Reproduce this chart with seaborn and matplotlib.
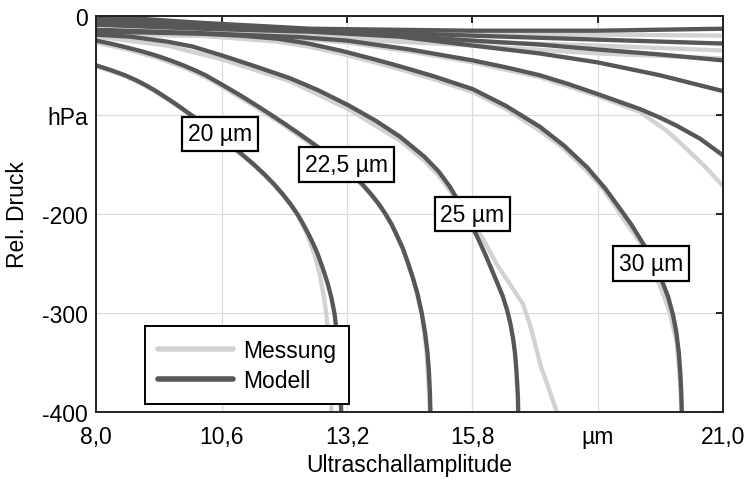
import numpy as np
import pandas as pd
import seaborn as sns
import matplotlib.pyplot as plt
from matplotlib.lines import Line2D

# ---- data (x = amplitude, y = rel. pressure in hPa) ----

# Modell curves (dark)
m20_x = [8.00, 8.32, 8.60, 8.83, 9.03, 9.21, 9.37, 9.53, 9.68, 9.97, 10.25, 10.52, 10.78, 11.03, 11.27, 11.49,
         11.69, 11.87, 12.03, 12.17, 12.29, 12.40, 12.50, 12.59, 12.70, 12.80, 12.88, 12.94, 12.99, 13.03, 13.05,
         13.07, 13.08]
m20_y = [-50, -55, -60, -65, -70, -75, -80, -85, -90, -100, -110, -120, -130, -140, -150, -160,
         -170, -180, -190, -200, -210, -220, -230, -240, -255, -270, -285, -300, -320, -340, -360,
         -380, -400]

m22_x = [8.00, 8.30, 8.64, 8.96, 9.24, 9.54, 9.81, 10.05, 10.27, 10.45, 10.63, 10.98, 11.31, 11.63, 11.94,
         12.24, 12.53, 12.81, 13.07, 13.31, 13.52, 13.70, 13.86, 14.00, 14.12, 14.22, 14.36, 14.47, 14.57,
         14.66, 14.75, 14.82, 14.87, 14.90, 14.92, 14.93]
m22_y = [-25, -28, -32, -36, -40, -45, -50, -55, -60, -65, -70, -80, -90, -100, -110,
         -120, -130, -140, -150, -160, -170, -180, -190, -200, -210, -220, -235, -250, -265,
         -280, -300, -320, -340, -360, -380, -400]

m25_x = [8.00, 8.70, 9.47, 10.00, 10.61, 11.30, 12.02, 12.60, 13.22, 13.80, 14.30, 14.80, 15.10, 15.34,
         15.51, 15.66, 15.79, 15.92, 16.06, 16.20, 16.32, 16.43, 16.52, 16.59, 16.645, 16.685, 16.71,
         16.73, 16.745, 16.75]
m25_y = [-19, -21, -26, -31, -40, -51, -63, -75, -90, -106, -122, -142, -157, -173,
         -187, -200, -212, -225, -240, -256, -270, -283, -297, -311, -326, -341, -356,
         -372, -386, -400]

m30_x = [8.00, 9.00, 10.16, 11.00, 11.75, 12.40, 13.06, 13.70, 14.30, 15.00, 15.81, 16.50, 17.20, 17.70,
         18.18, 18.55, 18.85, 19.10, 19.34, 19.55, 19.72, 19.86, 19.96, 20.03, 20.08, 20.11, 20.13, 20.14]
m30_y = [-16, -16.8, -18, -20, -23, -28, -35, -43, -51, -61, -74, -91, -112, -131,
         -153, -174, -194, -211, -230, -248, -266, -284, -302, -320, -340, -360, -380, -400]

m35_x = [8.00, 10.16, 11.20, 12.23, 13.20, 14.51, 15.81, 16.50, 17.20, 17.80, 18.40, 19.27, 19.70, 20.04,
         20.52, 21.00]
m35_y = [-14, -17.5, -19.5, -21.5, -25, -34, -45, -52, -60, -69, -79, -94, -103, -111,
         -124, -141]

m40_x = [8.00, 10.16, 12.44, 14.30, 15.81, 17.20, 18.40, 19.69, 21.00]
m40_y = [-9, -13, -16, -21, -30, -38, -47, -60, -76]

m45_x = [8.00, 10.16, 12.44, 14.30, 15.81, 17.20, 18.40, 19.69, 21.00]
m45_y = [-7, -11, -15, -20, -25, -29, -34, -39, -45]

m50_x = [8.00, 10.16, 12.44, 15.81, 18.40, 21.00]
m50_y = [-4, -9, -14, -20, -24, -28]

m60_x = [8.00, 10.16, 12.44, 15.81, 18.40, 21.00]
m60_y = [0, -7, -13, -15, -15, -13]

# Messung curves (light)
s20_x = [8.00, 8.32, 8.60, 8.83, 9.03, 9.21, 9.37, 9.53, 9.68, 9.97, 10.25, 10.52, 10.78, 11.03, 11.27, 11.49,
         11.69, 11.87, 12.03, 12.17, 12.37, 12.52, 12.63, 12.71, 12.77, 12.81, 12.84, 12.86, 12.87, 12.88]
s20_y = [-51, -56, -61, -66, -71, -76, -81, -86, -91, -101, -111, -121, -131, -141, -151, -161,
         -171, -181, -191, -200, -220, -240, -260, -280, -300, -320, -340, -360, -380, -400]

s22_x = [8.00, 8.64, 9.24, 9.81, 10.27, 10.63, 11.31, 11.94, 12.53, 13.07, 13.52, 13.86, 14.12, 14.36,
         14.57, 14.75, 14.85, 14.90, 14.92]
s22_y = [-27, -34, -42, -52, -62, -72, -92, -112, -132, -151, -171, -190, -210, -235,
         -265, -300, -340, -380, -400]

s25_x = [8.00, 9.47, 10.61, 12.02, 13.22, 14.30, 14.80, 15.10, 15.34, 15.75, 16.02, 16.31, 16.58, 16.85,
         16.99, 17.10, 17.22, 17.39, 17.55]
s25_y = [-21, -30, -44, -66, -94, -126, -146, -161, -177, -205, -225, -251, -271, -291,
         -311, -331, -354, -377, -400]

s30_x = [8.00, 10.16, 11.75, 12.40, 13.06, 13.70, 14.30, 15.00, 15.81, 16.50, 17.20, 17.70, 18.18, 18.50,
         18.76, 19.00, 19.27, 19.47, 19.65, 19.78, 19.90, 20.04, 20.10, 20.15]
s30_y = [-18, -20, -26, -31, -38, -46, -54, -64, -77, -94, -116, -134, -157, -174,
         -192, -210, -228, -248, -268, -284, -301, -331, -367, -400]

s35_x = [8.00, 10.16, 12.23, 13.20, 14.51, 15.81, 17.20, 18.40, 19.27, 19.83, 20.17, 20.62, 21.00]
s35_y = [-15, -20, -23, -27, -36, -47, -62, -81, -97, -116, -131, -152, -172]

s40_x = [8.00, 12.23, 15.81, 18.40, 21.00]
s40_y = [-19, -21, -30, -38, -43]

s45_x = [8.00, 12.23, 15.81, 18.40, 21.00]
s45_y = [-18, -20, -26, -30, -35]

s50_x = [8.00, 10.16, 12.44, 15.81, 18.40, 21.00]
s50_y = [-16, -16, -17, -19, -19, -20]

# labels on the curves
lab_text = ["20 µm", "22,5 µm", "25 µm", "30 µm"]
lab_x = [10.57, 13.19, 15.80, 19.51]
lab_y = [-119, -150, -200, -250]

# axis ticks
xticks = [8.0, 10.6, 13.2, 15.8, 18.4, 21.0]
xtick_labels = ["8,0", "10,6", "13,2", "15,8", "µm", "21,0"]
yticks = [0, -100, -200, -300, -400]
ytick_labels = ["0", "hPa", "-200", "-300", "-400"]

# ---- build long table ----
rows = []
mess = [("s20", s20_x, s20_y), ("s22", s22_x, s22_y), ("s25", s25_x, s25_y),
        ("s30", s30_x, s30_y), ("s35", s35_x, s35_y), ("s40", s40_x, s40_y),
        ("s45", s45_x, s45_y), ("s50", s50_x, s50_y)]
modell = [("m20", m20_x, m20_y), ("m22", m22_x, m22_y), ("m25", m25_x, m25_y),
          ("m30", m30_x, m30_y), ("m35", m35_x, m35_y), ("m40", m40_x, m40_y),
          ("m45", m45_x, m45_y), ("m50", m50_x, m50_y), ("m60", m60_x, m60_y)]
for name, xs, ys in mess:
    for a, b in zip(xs, ys):
        rows.append({"x": a, "y": b, "curve": name, "Art": "Messung"})
for name, xs, ys in modell:
    for a, b in zip(xs, ys):
        rows.append({"x": a, "y": b, "curve": name, "Art": "Modell"})
df = pd.DataFrame(rows)

sns.set_theme(style="white")
plt.rcParams['font.family'] = ['Liberation Sans', 'DejaVu Sans']

dark = "#575757"
light = "#d2d2d2"

fig, ax = plt.subplots(figsize=(7.51, 4.81), dpi=100)
fig.subplots_adjust(left=0.128, right=0.963, top=0.965, bottom=0.141)

sns.lineplot(data=df, x="x", y="y", hue="Art", units="curve", estimator=None,
             sort=False, hue_order=["Messung", "Modell"],
             palette={"Messung": light, "Modell": dark},
             linewidth=3.1, legend=False, ax=ax)
for ln in ax.get_lines():
    ln.set_solid_joinstyle("round")
    ln.set_solid_capstyle("butt")

ax.set_xlim(8, 21)
ax.set_ylim(-400, 0)
ax.set_xticks(xticks)
ax.set_xticklabels(xtick_labels)
ax.set_yticks(yticks)
ax.set_yticklabels(ytick_labels)
ax.grid(True, color="#dcdcdc", linewidth=0.9)
ax.set_axisbelow(True)
ax.tick_params(direction="in", length=5, width=1.2, top=True, right=True,
               labelsize=16.5, colors="black", pad=6)
ax.tick_params(axis="x", pad=9)
for sp in ax.spines.values():
    sp.set_color("#222222")
    sp.set_linewidth(1.4)

ax.set_xlabel("Ultraschallamplitude", fontsize=16.5, labelpad=4, color="black")
ax.set_ylabel("Rel. Druck", fontsize=16.5, labelpad=9, color="black")

for t, a, b in zip(lab_text, lab_x, lab_y):
    ax.text(a, b, t, fontsize=16.5, ha="center", va="center", zorder=5, color="black",
            bbox=dict(boxstyle="square,pad=0.25", fc="white", ec="black", lw=1.6))

handles = [Line2D([], [], color=light, lw=4), Line2D([], [], color=dark, lw=4)]
leg = ax.legend(handles, ["Messung", "Modell"], loc="lower left",
                bbox_to_anchor=(0.078, 0.02), fontsize=16.5, handlelength=3.3,
                fancybox=False, framealpha=1, edgecolor="black",
                borderpad=0.55, labelspacing=0.3, handletextpad=0.45,
                borderaxespad=0)
leg.get_frame().set_linewidth(1.4)
for txt in leg.get_texts():
    txt.set_color("black")
leg.set_zorder(6)

plt.savefig("out.png", dpi=100)
